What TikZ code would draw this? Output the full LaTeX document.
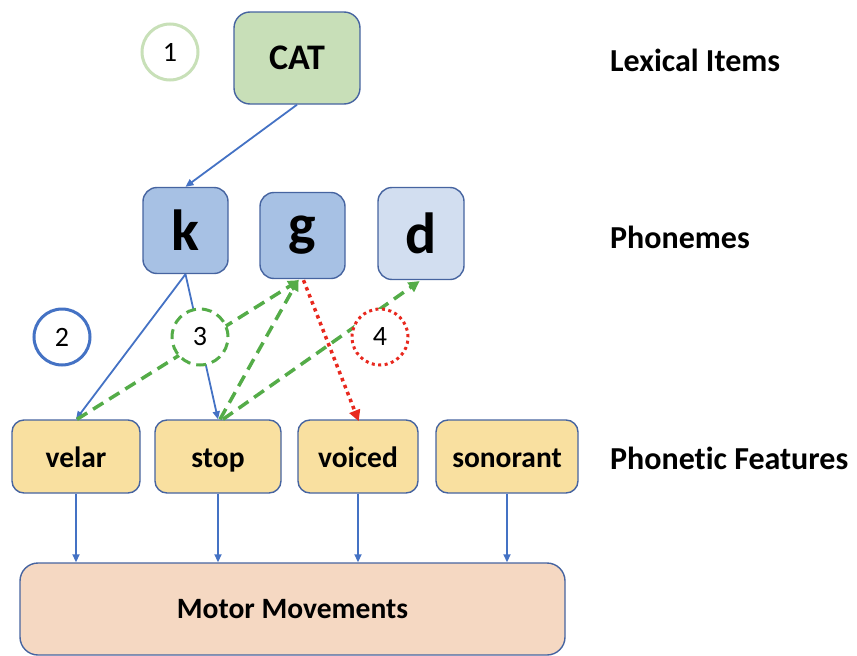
\documentclass[tikz,border=0pt]{standalone}
\usepackage{fontspec}
\setmainfont{Carlito}[Ligatures=NoCommon]
\usetikzlibrary{arrows.meta,calc}
\definecolor{bordc}{RGB}{70,100,160}
\definecolor{catfill}{RGB}{200,223,184}
\definecolor{phfill}{RGB}{167,193,228}
\definecolor{dfill}{RGB}{210,222,240}
\definecolor{featfill}{RGB}{249,224,160}
\definecolor{motfill}{RGB}{245,216,194}
\definecolor{arrblue}{RGB}{68,114,196}
\definecolor{grn}{RGB}{84,172,72}
\definecolor{redd}{RGB}{232,40,30}
\definecolor{lgreen}{RGB}{200,224,184}
\tikzset{
  box/.style={draw=bordc, line width=1.4pt, rounded corners=14pt, inner sep=0pt, font=\bfseries},
  phon/.style={box, fill=phfill, minimum width=85pt, minimum height=86pt, font=\bfseries\fontsize{58}{64}\selectfont},
  feat/.style={box, fill=featfill, rounded corners=12pt, minimum height=73pt, text height=21pt, text depth=0pt, font=\bfseries\fontsize{29.5}{34}\selectfont},
  lab/.style={anchor=west, inner sep=0pt, font=\bfseries\fontsize{32}{36}\selectfont},
  num/.style={circle, fill=white, line width=3pt, minimum size=56pt, inner sep=0pt, font=\fontsize{28}{32}\selectfont},
  barr/.style={draw=arrblue, line width=1.8pt, -{Triangle[length=8pt,width=7pt]}},
  garr/.style={draw=grn, line width=3.5pt, dash pattern=on 12pt off 7pt, -{Triangle[length=11pt,width=11pt]}, shorten >=-2pt},
  rarr/.style={draw=redd, line width=3.5pt, dash pattern=on 3.5pt off 4pt, -{Triangle[length=11pt,width=11pt]}, shorten >=-2pt},
}
\begin{document}
\begin{tikzpicture}[x=1pt,y=-1pt]
\useasboundingbox (0,0) rectangle (857,656);
% nodes
\node[box, fill=catfill, rounded corners=16pt, minimum width=126pt, minimum height=92pt, font=\bfseries\fontsize{36}{40}\selectfont] (cat) at (297,58) {CAT};
\node[phon] (k) at (185.5,230.5) {k};
\node[phon] (g) at (302.5,235.5) {g};
\node[phon, fill=dfill, minimum width=86pt, minimum height=92pt] (d) at (421,233.5) {d};
\node[feat, minimum width=128pt] (velar) at (76,456.5) {velar};
\node[feat, minimum width=126pt] (stop) at (218,456.5) {stop};
\node[feat, minimum width=120pt] (voiced) at (358,456.5) {voiced};
\node[feat, minimum width=142pt] (sonor) at (507,456.5) {sonorant};
\node[box, fill=motfill, rounded corners=18pt, minimum width=545pt, minimum height=92pt, font=\bfseries\fontsize{29.5}{34}\selectfont] (motor) at (292.5,609) {Motor Movements};
\node[lab] (lex) at (610,60) {Lexical Items};
\node[lab] (pho) at (610,237) {Phonemes};
\node[lab] (pf) at (610,458) {Phonetic Features};
% named points
\coordinate (gs1) at ($(g.south)+(-5,2)$);
\coordinate (gs2) at ($(g.south)+(1,1)$);
\coordinate (ds) at ($(d.south)+(-3,2)$);
\coordinate (vn) at ($(velar.north)+(1,0)$);
\coordinate (sn1) at ($(stop.north)+(2,0)$);
\coordinate (sn2) at ($(stop.north)+(5,0)$);
% blue connectors
\draw[barr] (cat.south) -- (k.north);
\draw[barr] (k.south) -- (velar.north);
\draw[barr] (k.south) -- (stop.north);
\foreach \f in {velar,stop,voiced,sonor}{
  \draw[barr] (\f.south) -- (\f.south |- motor.north);
}
% green dashed
\draw[garr] (vn) -- (gs1);
\draw[garr] (sn1) -- (gs1);
\draw[garr] (sn2) -- (ds);
% red dotted
\draw[rarr] (gs2) -- (voiced.north);
% numbered circles
\node[num, draw=lgreen] (c1) at (170,52) {1};
\node[num, draw=arrblue] (c2) at (62,337) {2};
\node[num, draw=grn, dash pattern=on 10pt off 6pt] (c3) at (200,337) {3};
\node[num, draw=redd, dash pattern=on 3pt off 3.5pt] (c4) at (380,337) {4};
\end{tikzpicture}
\end{document}
